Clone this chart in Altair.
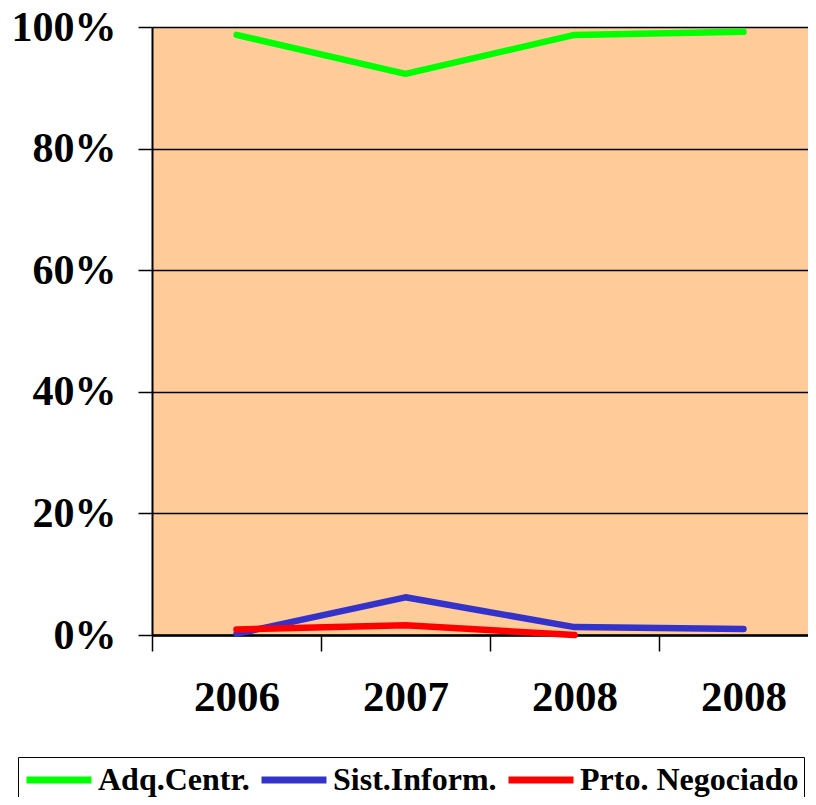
import altair as alt
import pandas as pd

years = ["2006", "2007", "2008", "2008"]
series_names = ["Adq.Centr.", "Sist.Inform.", "Prto. Negociado"]
colors = ["#00FF00", "#3333CC", "#FF0000"]
adq = [0.987, 0.923, 0.987, 0.992]
sist = [0.002, 0.062, 0.013, 0.010]
prto = [0.009, 0.016, 0.0]

rows = []
for name, vals in zip(series_names, [adq, sist, prto]):
    for i, v in enumerate(vals):
        rows.append({"slot": i, "series": name, "value": v})
df = pd.DataFrame(rows)

label_expr = "[" + ",".join("'%s'" % y for y in years) + "][datum.value]"
FONT = "Liberation Serif"

x_enc = alt.X(
    "slot:O",
    scale=alt.Scale(type="band", domain=list(range(len(years))), range=[0, 676],
                    paddingInner=0, paddingOuter=0),
    axis=alt.Axis(title=None, labelExpr=label_expr, tickBand="extent", labelAngle=0,
                  labelFont=FONT, labelFontSize=43, labelFontWeight="bold", labelColor="black",
                  labelPadding=25, tickSize=16, tickColor="black", tickWidth=1.5,
                  domainColor="black", domainWidth=2.5, grid=False),
)
y_enc = alt.Y(
    "value:Q",
    scale=alt.Scale(domain=[0, 1], nice=False),
    axis=alt.Axis(title=None, format="%", values=[0, 0.2, 0.4, 0.6, 0.8, 1.0],
                  labelFont=FONT, labelFontSize=42, labelFontWeight="bold", labelColor="black",
                  labelPadding=22, tickSize=14, tickColor="black", tickWidth=1.5,
                  domainColor="black", domainWidth=2, gridColor="black", gridWidth=1.5,
                  gridOpacity=1),
)
color_enc = alt.Color(
    "series:N",
    scale=alt.Scale(domain=series_names, range=colors),
    legend=alt.Legend(title=None, orient="none", legendX=-134, legendY=730,
                      direction="horizontal", symbolType="stroke", symbolSize=4225,
                      symbolStrokeWidth=7, labelFont=FONT, labelFontSize=32,
                      labelFontWeight="bold", labelColor="black", labelOffset=3,
                      labelLimit=400, columnPadding=8, padding=5, clipHeight=36,
                      strokeColor="black"),
)

layers = []
for name in series_names:
    layers.append(
        alt.Chart(df).transform_filter(alt.datum.series == name)
        .mark_line(strokeWidth=6.5, strokeCap="round", strokeJoin="round")
        .encode(x=x_enc, y=y_enc, color=color_enc)
    )

chart = alt.layer(*layers).properties(
    width=656, height=608,
    autosize=alt.AutoSizeParams(type="none"),
    padding={"left": 144, "top": 19, "right": 0, "bottom": 162},
).configure_view(fill="#FFCC99", stroke=None)

chart.save("out.html", embed_options={"renderer": "svg", "actions": False})
